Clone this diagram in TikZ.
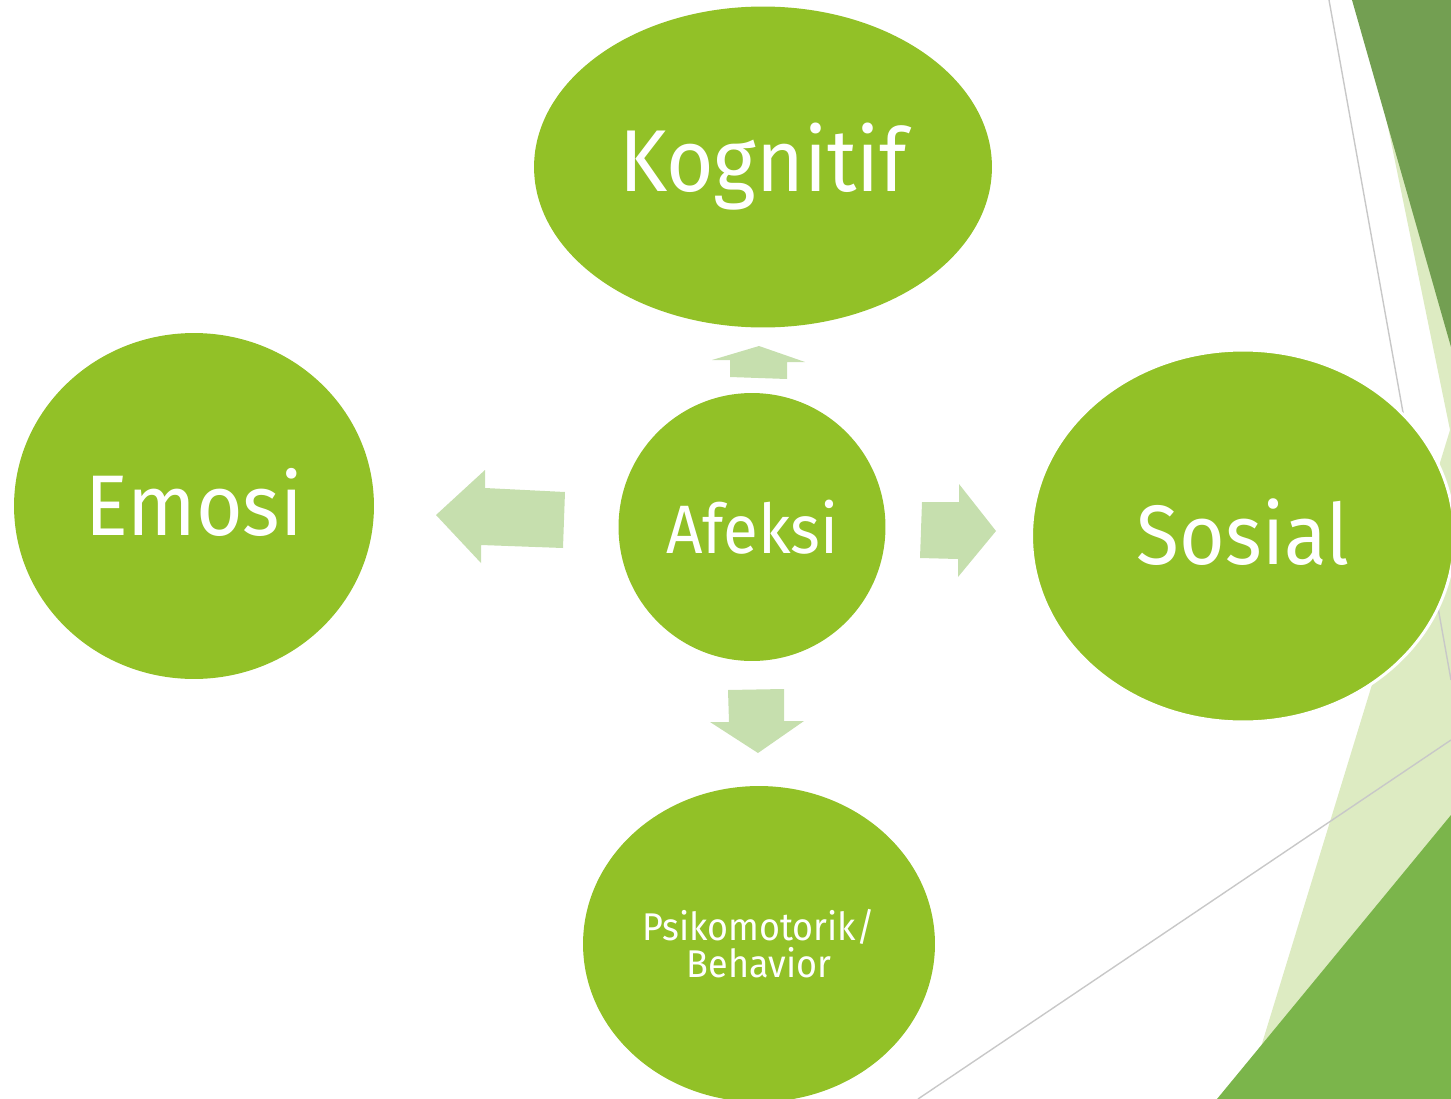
\documentclass[tikz,border=0pt]{standalone}
\usepackage{fontspec}
\setmainfont{Fira Sans}[FakeStretch=0.93]
\usetikzlibrary{shapes.geometric}
\definecolor{leaf}{RGB}{146,193,39}
\definecolor{shoot}{RGB}{198,223,174}
\definecolor{facetpale}{RGB}{221,235,194}
\definecolor{facetdark}{RGB}{115,159,82}
\definecolor{facetmid}{RGB}{123,181,75}
\definecolor{facetline}{RGB}{200,200,200}

\begin{document}
\begin{tikzpicture}[x=0.02cm,y=-0.02cm,
  bubble/.style={ellipse,fill=leaf,text=white,inner sep=0pt},
  blockarrow/.style={fill=shoot}]
\useasboundingbox (0,0) rectangle (1451,1099);
\clip (0,0) rectangle (1451,1099);
\begin{scope}
  \fill[facetpale] (1362,0) -- (1451,0) -- (1451,1099) -- (1245,1099) -- (1450,430) -- cycle;
  \fill[facetdark] (1352,0) -- (1451,0) -- (1451,347) -- cycle;
  \fill[facetmid] (1451,815) -- (1451,1099) -- (1217,1099) -- cycle;
  \draw[facetline,line width=0.8pt] (1329,0) -- (1451,680);
  \draw[facetline,line width=0.8pt] (1451,740) -- (918,1099);
\end{scope}
\node[bubble,minimum width=9.16cm,minimum height=6.42cm,font=\fontsize{50}{56}\selectfont] (kog) at (763,167) {Kognitif};
\node[bubble,minimum width=7.2cm,minimum height=6.92cm,font=\fontsize{49}{54}\selectfont] (emo) at (194,506) {\raisebox{0.16cm}{Emosi}};
\node[bubble,minimum width=5.34cm,minimum height=5.36cm,font=\fontsize{39}{44}\selectfont] (afe) at (752,527) {Afeksi};
\node[bubble,draw=white,line width=1.7pt,minimum width=8.46cm,minimum height=7.44cm,font=\fontsize{48}{54}\selectfont] (sos) at (1243,536) {\raisebox{0.16cm}{Sosial}};
\node[bubble,minimum width=7.04cm,minimum height=6.32cm,align=center,font=\fontsize{22}{21}\selectfont] (psi) at (759,944) {Psikomotorik/\\Behavior};
\fill[blockarrow] (730,377) -- (730,360) -- (712,360) -- (759,346) -- (805,362) -- (787,362) -- (787,379) -- cycle;
\fill[blockarrow] (565,492) -- (485,488) -- (485,470) -- (436,515) -- (481,563) -- (481,545) -- (563,548) -- cycle;
\fill[blockarrow] (922,502) -- (959,502) -- (959,484) -- (996,531) -- (958,577) -- (958,559) -- (920,558) -- cycle;
\fill[blockarrow] (728,690) -- (784,689) -- (784,721) -- (804,721) -- (758,753) -- (710,722) -- (729,722) -- cycle;
\end{tikzpicture}
\end{document}
